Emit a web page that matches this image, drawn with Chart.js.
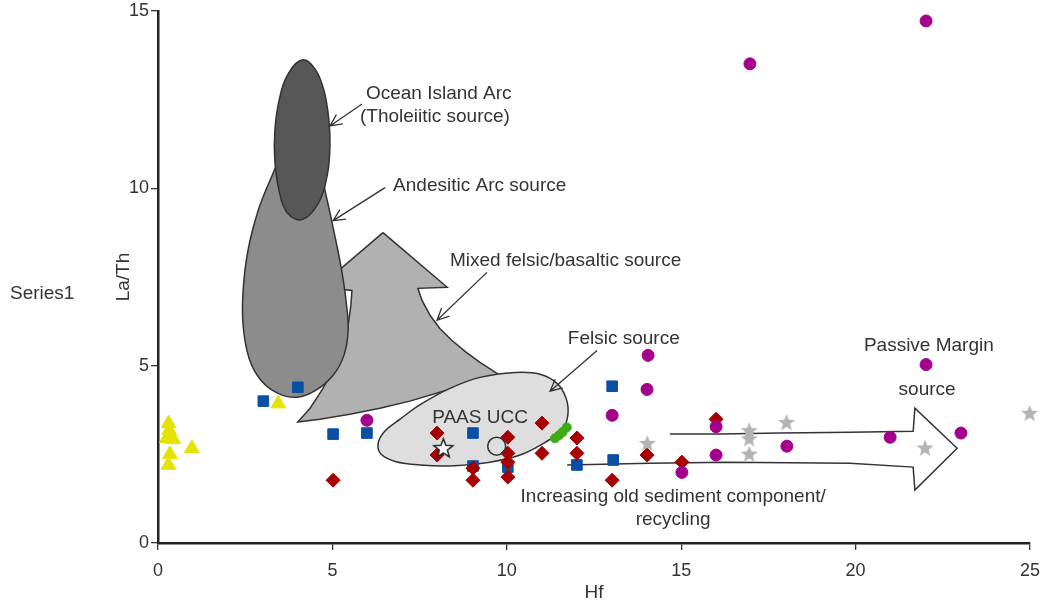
<!DOCTYPE html>
<html>
<head>
<meta charset="utf-8">
<script src="https://cdn.jsdelivr.net/npm/chart.js@4/dist/chart.umd.min.js"></script>
<style>
  html, body { margin: 0; padding: 0; background: #fff; }
</style>
</head>
<body>
<canvas id="graphCanvas" width="1044" height="608"></canvas>
<script>
//	Sample data (Hf vs La/Th)

var triX = [0.30, 0.32, 0.25, 0.44, 0.34, 0.30, 0.97, 3.45];
var triY = [3.37, 3.18, 2.95, 2.92, 2.50, 2.20, 2.67, 3.93];

var sqX = [3.02, 4.01, 5.02, 5.99, 9.03, 9.03, 10.03, 12.01, 13.02, 13.05];
var sqY = [4.00, 4.39, 3.07, 3.10, 3.10, 2.17, 2.14, 2.20, 4.42, 2.34];

var diaX = [5.02, 8.00, 8.00, 9.03, 9.03, 10.03, 10.03, 10.03, 10.03, 11.01, 11.01, 12.01, 12.01, 13.02, 14.02, 15.02, 16.00];
var diaY = [1.77, 3.10, 2.48, 2.11, 1.77, 2.98, 2.53, 2.28, 1.86, 3.38, 2.53, 2.96, 2.53, 1.77, 2.48, 2.28, 3.49];

var cirX = [5.99, 13.02, 14.05, 14.02, 15.02, 16.00, 16.00, 16.97, 18.03, 20.99, 22.02, 22.02, 23.02];
var cirY = [3.46, 3.60, 5.29, 4.33, 1.99, 3.28, 2.48, 13.51, 2.73, 2.98, 14.72, 5.03, 3.10];

var starX = [14.03, 16.95, 16.95, 16.95, 18.02, 21.99, 24.99];
var starY = [2.82, 3.18, 2.95, 2.52, 3.41, 2.69, 3.67];

var greenX = [11.38, 11.50, 11.60, 11.72];
var greenY = [2.95, 3.04, 3.13, 3.26];

var paasX = [8.18], paasY = [2.69];
var uccX = [9.71], uccY = [2.73];

//	Source fields, outlines in data units [Hf, La/Th]
var oceanArc = [[4.13, 13.62], [4.50, 13.37], [4.76, 12.75], [4.90, 11.91], [4.93, 11.20], [4.85, 10.36],
	[4.59, 9.57], [4.13, 9.12], [3.70, 9.32], [3.47, 9.94], [3.35, 10.78], [3.35, 11.62], [3.47, 12.47], [3.70, 13.17]];

var andesiticArc = [[4.01, 11.34], [4.59, 10.64], [4.82, 9.79], [5.05, 8.75], [5.25, 7.77], [5.39, 6.84],
	[5.45, 5.99], [5.33, 5.29], [5.02, 4.73], [4.53, 4.31], [3.99, 4.11], [3.44, 4.22], [2.95, 4.59],
	[2.61, 5.21], [2.44, 6.14], [2.44, 7.12], [2.58, 8.25], [2.87, 9.37], [3.21, 10.22], [3.56, 10.92]];

var mixedSource = [[6.45, 8.75], [8.29, 7.21], [7.45, 7.18], [7.57, 6.84], [7.80, 6.42], [8.08, 6.05],
	[8.43, 5.71], [8.83, 5.38], [9.23, 5.09], [9.72, 4.78], [9.95, 4.64], [8.94, 4.50], [8.08, 4.25],
	[7.22, 4.00], [6.36, 3.80], [5.50, 3.63], [4.64, 3.49], [4.01, 3.41], [4.36, 3.80], [4.70, 4.31],
	[5.02, 4.87], [5.28, 5.49], [5.45, 6.14], [5.53, 6.70], [5.56, 7.12], [4.62, 7.21], [6.45, 8.75]];

var felsicSource = [[10.24, 4.81], [10.95, 4.76], [11.44, 4.50], [11.70, 4.08], [11.75, 3.60], [11.58, 3.18],
	[11.10, 2.84], [10.38, 2.48], [9.52, 2.28], [8.51, 2.18], [7.51, 2.20], [6.80, 2.30], [6.40, 2.50],
	[6.31, 2.80], [6.50, 3.15], [6.95, 3.50], [7.55, 3.92], [8.37, 4.36], [9.23, 4.67]];

var recyclingArrow = [[14.68, 3.07], [16.11, 3.07], [17.83, 3.10], [19.84, 3.12], [21.65, 3.15], [21.70, 3.80],
	[22.91, 2.67], [21.70, 1.49], [21.65, 2.14], [19.84, 2.25], [16.31, 2.28], [14.11, 2.25], [11.73, 2.20]];

//	Labels: text, Hf, La/Th, align
var noteLabels = [
	['Ocean Island Arc', 5.96, 12.67, 'left'],
	['(Tholeiitic source)', 5.79, 12.02, 'left'],
	['Andesitic Arc source', 6.74, 10.08, 'left'],
	['Mixed felsic/basaltic source', 8.37, 7.97, 'left'],
	['Felsic source', 11.75, 5.77, 'left'],
	['Passive Margin', 22.10, 5.57, 'center'],
	['source', 22.05, 4.33, 'center'],
	['PAAS UCC', 7.86, 3.52, 'left'],
	['Increasing old sediment component/', 14.77, 1.29, 'center'],
	['recycling', 14.77, 0.65, 'center']
];

//	Pointer lines: from [Hf, La/Th] to tip [Hf, La/Th]
var pointers = [
	[5.85, 12.38, 4.93, 11.76],
	[6.51, 10.02, 5.02, 9.09],
	[9.43, 7.63, 8.00, 6.28],
	[12.59, 5.43, 11.24, 4.28]
];

var xTicks = { min: 0, max: 25, step: 5 };
var yTicks = { min: 0, max: 15, step: 5 };

var fontFamily = '"Liberation Sans", Arial, Helvetica, sans-serif';
var textColor = '#333333';

// helpers
var toPoints = function (xs, ys) {
	return xs.map(function (v, i) { return { x: v, y: ys[i] }; });
};
var toOutline = function (pairs) {
	return pairs.map(function (p) { return { x: p[0], y: p[1] }; });
};

var makeStar = function (size, fill, stroke, lw) {
	var c = document.createElement('canvas');
	c.width = size; c.height = size;
	var g = c.getContext('2d');
	var cx = size / 2, cy = size / 2 + size * 0.05;
	var R = size / 2 - lw, r = R * 0.42;
	g.beginPath();
	for (var i = 0; i < 10; i++) {
		var a = -Math.PI / 2 + i * Math.PI / 5;
		var rad = (i % 2) ? r : R;
		g.lineTo(cx + rad * Math.cos(a), cy + rad * Math.sin(a));
	}
	g.closePath();
	g.fillStyle = fill;
	g.fill();
	if (stroke) {
		g.lineWidth = lw;
		g.strokeStyle = stroke;
		g.lineJoin = 'miter';
		g.stroke();
	}
	return c;
};

var greyStar = makeStar(18, '#b3b3b3', null, 0);
var paasStar = makeStar(23, '#ffffff', '#222222', 1.5);

var shape = function (label, pairs, color, order, closed, tension) {
	return {
		label: label,
		data: toOutline(pairs),
		showLine: true,
		fill: 'shape',
		backgroundColor: color,
		borderColor: '#333333',
		borderWidth: 1.5,
		pointRadius: 0,
		tension: tension,
		closed: closed,
		order: order
	};
};

var markers = function (label, xs, ys, style, radius, color, order) {
	return {
		label: label,
		data: toPoints(xs, ys),
		showLine: false,
		pointStyle: style,
		pointRadius: radius,
		backgroundColor: color,
		borderColor: color,
		borderWidth: 1,
		clip: false,
		order: order
	};
};

//	Plugin: closes smooth outlines, draws pointers and labels
var notesPlugin = {
	id: 'notes',
	afterDatasetUpdate: function (chart, args) {
		var ds = chart.data.datasets[args.index];
		if (ds.closed && args.meta.dataset) {
			args.meta.dataset._loop = true;
			args.meta.dataset._fullLoop = true;
		}
	},
	afterDatasetsDraw: function (chart) {
		var ctx = chart.ctx;
		var xs = chart.scales.x, ys = chart.scales.y;
		ctx.save();
		ctx.strokeStyle = '#333333';
		ctx.lineWidth = 1.3;
		pointers.forEach(function (p) {
			var x0 = xs.getPixelForValue(p[0]), y0 = ys.getPixelForValue(p[1]);
			var x1 = xs.getPixelForValue(p[2]), y1 = ys.getPixelForValue(p[3]);
			var a = Math.atan2(y1 - y0, x1 - x0);
			ctx.beginPath();
			ctx.moveTo(x0, y0);
			ctx.lineTo(x1, y1);
			ctx.moveTo(x1 - 13 * Math.cos(a - 0.45), y1 - 13 * Math.sin(a - 0.45));
			ctx.lineTo(x1, y1);
			ctx.lineTo(x1 - 13 * Math.cos(a + 0.45), y1 - 13 * Math.sin(a + 0.45));
			ctx.stroke();
		});
		ctx.fillStyle = textColor;
		ctx.font = '19px ' + fontFamily;
		ctx.textBaseline = 'middle';
		noteLabels.forEach(function (l) {
			ctx.textAlign = l[3];
			ctx.fillText(l[0], xs.getPixelForValue(l[1]), ys.getPixelForValue(l[2]));
		});
		// series legend text, left of the axis
		var area = chart.chartArea;
		ctx.textAlign = 'left';
		ctx.fillText('Series1', 10, (area.top + area.bottom) / 2 + 17);
		ctx.restore();
	}
};

var graphSettings = {
	type: 'line',
	data: {
		datasets: [
			markers('PAAS', paasX, paasY, paasStar, 10, '#ffffff', 0),
			{
				label: 'UCC',
				data: toPoints(uccX, uccY),
				showLine: false,
				pointStyle: 'circle',
				pointRadius: 9,
				backgroundColor: 'rgba(0,0,0,0)',
				borderColor: '#333333',
				borderWidth: 1.6,
				order: 0
			},
			markers('Series5', greenX, greenY, 'circle', 4.5, '#3cae14', 1),
			markers('Series4', starX, starY, greyStar, 9, '#b3b3b3', 1),
			markers('Series3', cirX, cirY, 'circle', 6, '#a3008c', 1),
			markers('Series2', diaX, diaY, 'rectRot', 7, '#a80000', 2),
			markers('Series1', sqX, sqY, 'rect', 7.5, '#0a4fa3', 3),
			markers('Series0', triX, triY, 'triangle', 8.5, '#e4e400', 3),
			shape('Recycling', recyclingArrow, '#ffffff', 5, false, 0),
			shape('Ocean Island Arc', oceanArc, '#575757', 6, true, 0.4),
			shape('Andesitic Arc', andesiticArc, '#8c8c8c', 7, true, 0.4),
			shape('Felsic', felsicSource, '#dedede', 8, true, 0.4),
			shape('Mixed felsic/basaltic', mixedSource, '#b1b1b1', 9, false, 0)
		]
	},
	options: {
		responsive: false,
		animation: false,
		events: [],
		layout: { padding: { left: 108, right: 0, top: 0, bottom: 0 } },
		plugins: {
			legend: { display: false },
			tooltip: { enabled: false }
		},
		scales: {
			x: {
				type: 'linear',
				min: xTicks.min,
				max: xTicks.max,
				afterFit: function (scale) {
					scale.height = 65;
					scale.paddingRight = 14;
				},
				border: { display: true, color: '#222222', width: 2.5 },
				grid: { display: true, drawOnChartArea: false, drawTicks: true, tickLength: 7, color: '#333333', lineWidth: 1.3 },
				ticks: { stepSize: xTicks.step, padding: 10, color: textColor, font: { size: 18, family: fontFamily } },
				title: { display: true, text: 'Hf', color: textColor, font: { size: 19, family: fontFamily } }
			},
			y: {
				type: 'linear',
				min: yTicks.min,
				max: yTicks.max,
				afterFit: function (scale) {
					scale.width = 50;
					scale.paddingTop = 8;
				},
				border: { display: true, color: '#222222', width: 2.5 },
				grid: { display: true, drawOnChartArea: false, drawTicks: true, tickLength: 7, color: '#333333', lineWidth: 1.3 },
				ticks: { stepSize: yTicks.step, padding: 2, color: textColor, font: { size: 18, family: fontFamily } },
				title: { display: true, text: 'La/Th', color: textColor, font: { size: 19, family: fontFamily } }
			}
		}
	},
	plugins: [notesPlugin]
};

var theGraph = new Chart(document.getElementById('graphCanvas'), graphSettings);
</script>
</body>
</html>
